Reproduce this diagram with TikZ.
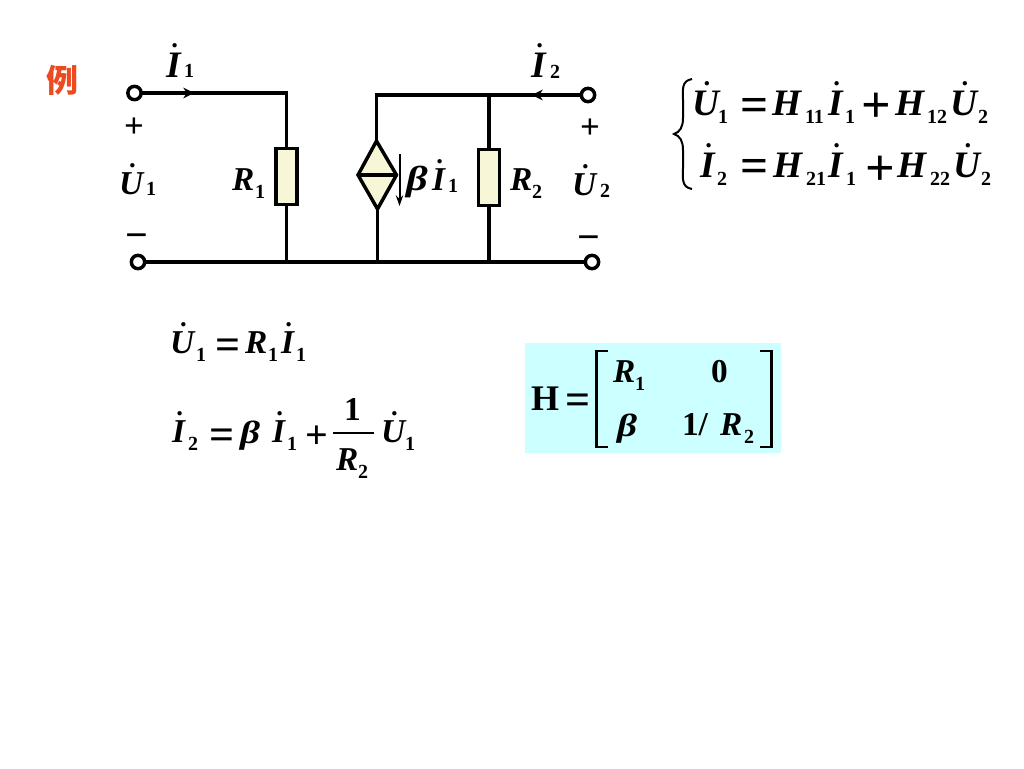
\documentclass[tikz,border=0pt]{standalone}
\usepackage{fontspec}
\setmainfont{Liberation Serif}
\newfontfamily\cjk{Noto Sans CJK SC}
\usetikzlibrary{arrows.meta}
\definecolor{partfill}{HTML}{F7F7D8}
\definecolor{boxfill}{HTML}{CCFFFF}
\definecolor{lihong}{HTML}{EE4A22}
\newcounter{lbn}
\newcommand{\bigf}{\fontsize{28}{30}\selectfont\bfseries\itshape}
\newcommand{\midf}{\fontsize{25}{27}\selectfont\bfseries\itshape}
\newcommand{\smlf}{\fontsize{15}{17}\selectfont\bfseries\upshape}
\newcommand{\dotl}[1]{\setbox0\hbox{#1}\rlap{\hbox to \wd0{\hss\raisebox{\dimexpr\ht0+3.8pt}{\kern0.08em\fontsize{20}{20}\selectfont\upshape.}\hss}}\box0}
\newcommand{\lab}[3]{\stepcounter{lbn}\node[txt] (lb\thelbn) at (#1,#2) {#3};}
\newcommand{\bl}[3]{\lab{#1}{#2}{\bigf #3}}
\newcommand{\ml}[3]{\lab{#1}{#2}{\midf #3}}
\newcommand{\sbl}[3]{\lab{#1}{#2}{\smlf #3}}
\newcommand{\sy}[4]{\lab{#2}{#3}{\fontsize{#1}{#1}\selectfont\bfseries #4}}
\newcommand{\bet}[3]{\lab{#2}{#3}{\scalebox{1.22}[1]{\fontsize{#1}{#1}\selectfont\bfseries\itshape β}}}
\tikzset{
  txt/.style={anchor=base west,inner sep=0pt,outer sep=0pt},
  wire/.style={line width=2.6pt,line cap=round,line join=miter},
  term/.style={circle,draw,fill=white,line width=2.6pt,minimum size=10pt,inner sep=0pt},
  res/.style={rectangle,draw,fill=partfill,line width=2.6pt,minimum width=16pt,minimum height=42pt,inner sep=0pt},
  flow/.style={line width=1.8pt,-{Stealth[length=8pt,width=8pt]}},
  thinflow/.style={line width=1.5pt,-{Stealth[length=8pt,width=5.5pt]}},
  brk/.style={line width=2pt,line cap=butt}
}
\begin{document}
\begin{tikzpicture}[x=0.75pt,y=-0.75pt]
\useasboundingbox (0,0) rectangle (1024,768);
\fill[white] (0,0) rectangle (1024,768);
% circuit
\node[term] (a) at (134.5,93) {};
\node[term] (b) at (138,262) {};
\node[term] (c) at (588,95) {};
\node[term] (d) at (592,262) {};
\node[res] (r1) at (286.5,176.5) {};
\node[res] (r2) at (489,177.5) {};
\coordinate (dt) at (376.5,141);
\coordinate (db) at (377.5,209);
\coordinate (dl) at (358,175);
\coordinate (dr) at (396.5,175);
\coordinate (jt) at (376.5,95);
\coordinate (jb) at (377.5,262);
\draw[wire] (a) -- (a -| r1) -- (r1.north);
\draw[wire] (r1.south) -- (r1.south |- b);
\draw[wire] (b) -- (d);
\draw[wire] (c) -- (jt) -- (dt);
\draw[wire] (db) -- (jb);
\draw[wire] (r2.north) -- (r2.north |- c);
\draw[wire] (r2.south) -- (r2.south |- d);
\filldraw[fill=partfill,line width=2.6pt,line join=miter] (dt) -- (dr) -- (db) -- (dl) -- cycle;
\draw[line width=2.6pt] (dl) -- (dr);
\coordinate (ia) at (165,93);
\coordinate (ib) at (194,93);
\coordinate (ic) at (550,95);
\coordinate (id) at (532,95);
\coordinate (ie) at (399.5,154);
\coordinate (if) at (399.5,206);
\draw[flow] (ia) -- (ib);
\draw[flow] (ic) -- (id);
\draw[thinflow] (ie) -- (if);
% circuit labels
\node[txt,text=lihong,font=\cjk\bfseries\fontsize{24}{26}\selectfont] (li) at (46,92) {例};
\bl{166}{77}{\dotl{I}}\sbl{184}{77}{1}
\bl{531}{77}{\dotl{I}}\sbl{550}{78}{2}
\ml{119}{194}{\dotl{U}}\sbl{146}{195}{1}
\ml{572}{195}{\dotl{U}}\sbl{600}{197}{2}
\ml{232}{190}{R}\sbl{255}{198}{1}
\ml{510}{190}{R}\sbl{532}{198}{2}
\bet{26}{406}{190}\ml{432}{190}{\dotl{I}}\sbl{448}{192}{1}
\sy{26}{124}{137}{+}
\sy{26}{580}{138}{+}
\sy{30}{125.5}{248.5}{−}
\sy{30}{577.5}{250.5}{−}
% brace
\coordinate (ba) at (692,79);
\coordinate (bb) at (674,134);
\coordinate (bc) at (692,189);
\draw[line width=1.5pt] (ba) .. controls (681,81) and (683,90) .. (683,100) -- (683,118) .. controls (683,127) and (680,132) .. (bb) .. controls (680,136) and (683,141) .. (683,150) -- (683,168) .. controls (683,178) and (681,187) .. (bc);
% equations right
\bl{692}{115}{\dotl{U}}\sbl{718}{123}{1}\sy{37}{740}{121}{=}\bl{772}{115}{H}\sbl{805}{123}{11}\bl{828}{115}{\dotl{I}}\sbl{845}{123}{1}\sy{39}{861}{122}{+}\bl{895}{115}{H}\sbl{927}{123}{12}\bl{950}{115}{\dotl{U}}\sbl{978}{123}{2}
\bl{700}{177}{\dotl{I}}\sbl{717}{185}{2}\sy{37}{740}{182}{=}\bl{773}{177}{H}\sbl{806}{185}{21}\bl{828}{177}{\dotl{I}}\sbl{846}{185}{1}\sy{39}{865}{185}{+}\bl{897}{177}{H}\sbl{930}{185}{22}\bl{953}{177}{\dotl{U}}\sbl{981}{185}{2}
% equations lower
\ml{170}{353}{\dotl{U}}\sbl{196}{361}{1}\sy{33}{215}{359}{=}\ml{245}{353}{R}\sbl{268}{361}{1}\ml{281}{353}{\dotl{I}}\sbl{296}{361}{1}
\ml{172}{442}{\dotl{I}}\sbl{188}{450}{2}\sy{33}{209}{449.5}{=}\bet{24}{240}{443}\ml{272}{442}{\dotl{I}}\sbl{287}{450}{1}\sy{30}{305}{448}{+}
\ml{344}{420}{\upshape 1}\ml{336}{470}{R}\sbl{358}{478}{2}\ml{381}{442}{\dotl{U}}\sbl{405}{450}{1}
\coordinate (fa) at (333,433);
\coordinate (fb) at (374,433);
\draw[line width=1.1pt] (fa) -- (fb);
% matrix
\node[draw=none,fill=boxfill,minimum width=192pt,minimum height=82.5pt,inner sep=0pt] (box) at (653,398) {};
\sy{27}{531}{410}{H}\sy{33}{565}{414}{=}
\coordinate (la) at (608,351);
\coordinate (lb) at (596.5,351);
\coordinate (lc) at (596.5,447);
\coordinate (ld) at (608,447);
\coordinate (ra) at (760,351);
\coordinate (rb) at (771.5,351);
\coordinate (rc) at (771.5,447);
\coordinate (rd) at (760,447);
\draw[brk] (la) -- (lb) -- (lc) -- (ld);
\draw[brk] (ra) -- (rb) -- (rc) -- (rd);
\ml{613}{382}{R}\sbl{635}{390}{1}\ml{711}{382}{\upshape 0}
\bet{24}{617}{436}\ml{682}{435}{\upshape 1/}\ml{720}{435}{R}\sbl{744}{443}{2}
\end{tikzpicture}
\end{document}
